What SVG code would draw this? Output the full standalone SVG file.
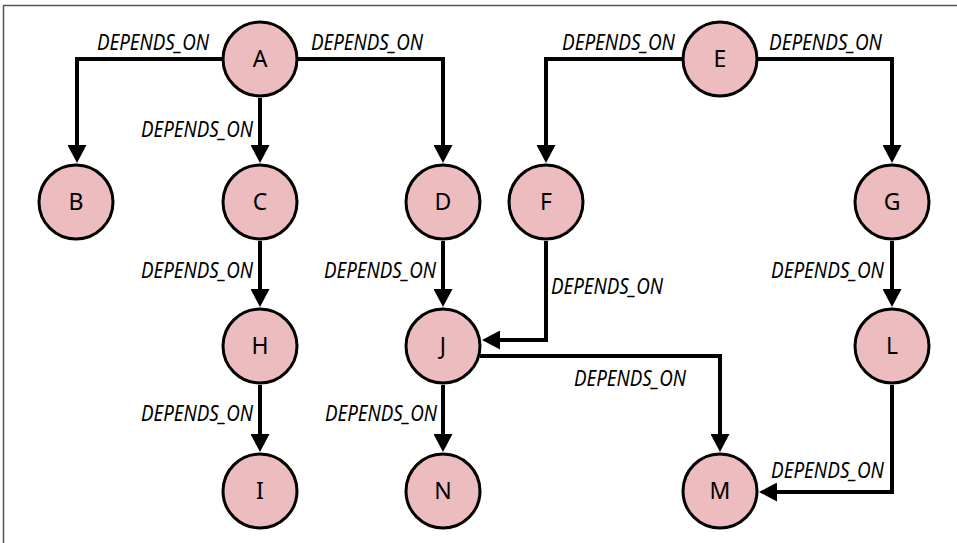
<svg xmlns="http://www.w3.org/2000/svg" width="957" height="543" viewBox="0 0 957 543">
<defs>
<style>
.frame{stroke:#555;stroke-width:1.5;fill:none}
.edge{stroke:#000;stroke-width:4;fill:none;marker-end:url(#arr)}
.node circle{fill:#ecbcbf;stroke:#000;stroke-width:3}
.node text{font-family:"Noto Sans","DejaVu Sans",sans-serif;font-size:23px;text-anchor:middle;fill:#000}
.lbl{font-family:"Noto Sans","DejaVu Sans",sans-serif;font-size:21.5px;font-style:italic;fill:#000}
</style>
<marker id="arr" markerUnits="userSpaceOnUse" markerWidth="18" markerHeight="19" refX="10" refY="9.5" orient="auto">
<path d="M0,0 L18,9.5 L0,19 z" fill="#000"/>
</marker>
</defs>
<rect x="0" y="0" width="957" height="543" fill="#fff"/>
<path class="frame" d="M3.5,543 V5.5 H957"/>
<g id="connectors">
<path class="edge" d="M222,59 H77 V155"/>
<path class="edge" d="M260,98 V155"/>
<path class="edge" d="M298,59 H443 V155"/>
<path class="edge" d="M682,59 H546 V155"/>
<path class="edge" d="M758,59 H892 V155"/>
<path class="edge" d="M260,241 V299"/>
<path class="edge" d="M443,241 V299"/>
<path class="edge" d="M546,241 V340 H490"/>
<path class="edge" d="M892,241 V299"/>
<path class="edge" d="M260,385 V444"/>
<path class="edge" d="M443,385 V444"/>
<path class="edge" d="M480,356 H720 V444"/>
<path class="edge" d="M892,385 V492 H767"/>
<g id="labels">
<text class="lbl" x="97" y="50" textLength="112" lengthAdjust="spacingAndGlyphs">DEPENDS_ON</text>
<text class="lbl" x="311" y="50" textLength="112" lengthAdjust="spacingAndGlyphs">DEPENDS_ON</text>
<text class="lbl" x="141" y="137" textLength="112" lengthAdjust="spacingAndGlyphs">DEPENDS_ON</text>
<text class="lbl" x="562" y="50" textLength="113" lengthAdjust="spacingAndGlyphs">DEPENDS_ON</text>
<text class="lbl" x="769" y="50" textLength="113" lengthAdjust="spacingAndGlyphs">DEPENDS_ON</text>
<text class="lbl" x="141" y="278" textLength="112" lengthAdjust="spacingAndGlyphs">DEPENDS_ON</text>
<text class="lbl" x="324" y="278" textLength="112" lengthAdjust="spacingAndGlyphs">DEPENDS_ON</text>
<text class="lbl" x="551" y="294" textLength="112" lengthAdjust="spacingAndGlyphs">DEPENDS_ON</text>
<text class="lbl" x="771" y="278" textLength="113" lengthAdjust="spacingAndGlyphs">DEPENDS_ON</text>
<text class="lbl" x="141" y="421" textLength="112" lengthAdjust="spacingAndGlyphs">DEPENDS_ON</text>
<text class="lbl" x="325" y="421" textLength="112" lengthAdjust="spacingAndGlyphs">DEPENDS_ON</text>
<text class="lbl" x="574" y="386" textLength="112" lengthAdjust="spacingAndGlyphs">DEPENDS_ON</text>
<text class="lbl" x="771" y="478" textLength="113" lengthAdjust="spacingAndGlyphs">DEPENDS_ON</text>
</g>
</g>
<g id="node-A" class="node"><circle cx="260" cy="59" r="37"/><text x="260" y="67">A</text></g>
<g id="node-B" class="node"><circle cx="76" cy="202" r="37"/><text x="76" y="210">B</text></g>
<g id="node-C" class="node"><circle cx="260" cy="202" r="37"/><text x="260" y="210">C</text></g>
<g id="node-D" class="node"><circle cx="443" cy="202" r="37"/><text x="443" y="210">D</text></g>
<g id="node-E" class="node"><circle cx="720" cy="59" r="37"/><text x="720" y="67">E</text></g>
<g id="node-F" class="node"><circle cx="546" cy="202" r="37"/><text x="546" y="210">F</text></g>
<g id="node-G" class="node"><circle cx="892" cy="202" r="37"/><text x="892" y="210">G</text></g>
<g id="node-H" class="node"><circle cx="260" cy="346" r="37"/><text x="260" y="354">H</text></g>
<g id="node-I" class="node"><circle cx="260" cy="491" r="37"/><text x="260" y="499">I</text></g>
<g id="node-J" class="node"><circle cx="443" cy="346" r="37"/><text x="443" y="354">J</text></g>
<g id="node-L" class="node"><circle cx="892" cy="346" r="37"/><text x="892" y="354">L</text></g>
<g id="node-M" class="node"><circle cx="720" cy="491" r="37"/><text x="720" y="499">M</text></g>
<g id="node-N" class="node"><circle cx="443" cy="491" r="37"/><text x="443" y="499">N</text></g>
</svg>
